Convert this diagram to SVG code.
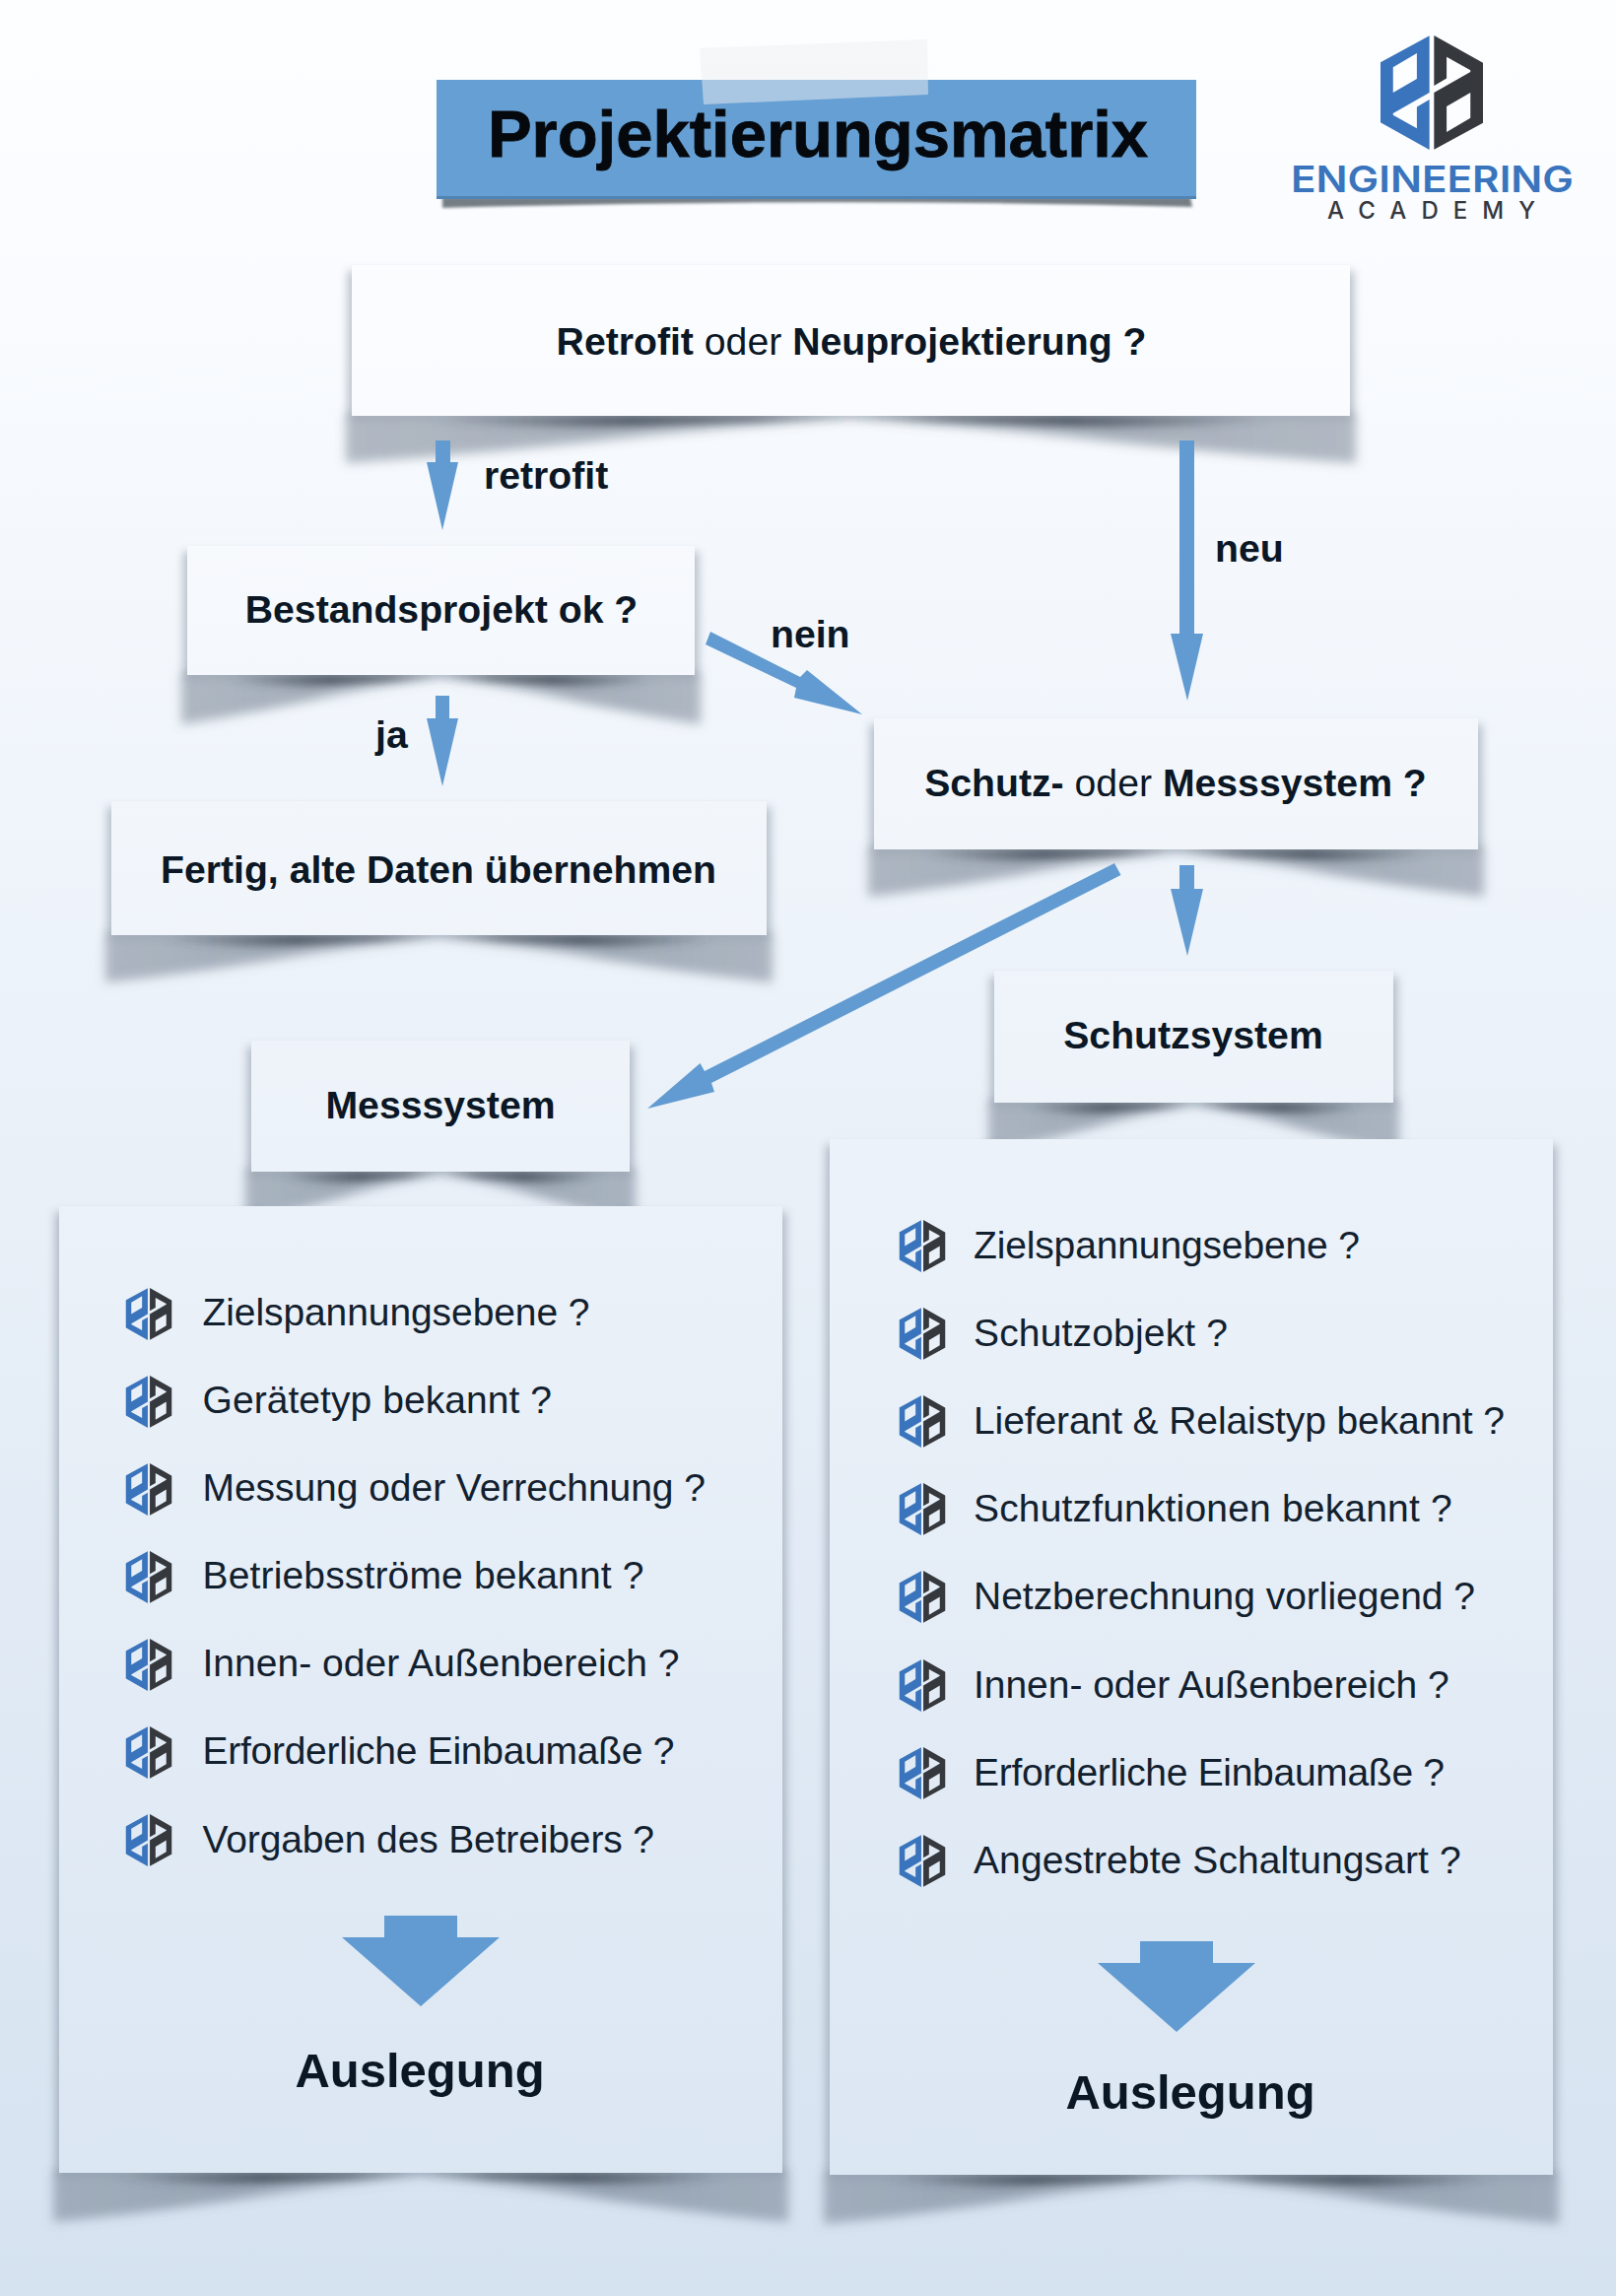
<svg xmlns="http://www.w3.org/2000/svg" width="1640" height="2330" viewBox="0 0 1640 2330">
<defs>
<style>
text{font-family:"Liberation Sans",Arial,sans-serif;fill:#0b1724}
.b{font-weight:700;font-size:39.200px}
.m{text-anchor:middle}
.n{font-weight:400}
.l{font-size:39px;font-weight:400;fill:#12202e}
.a{font-weight:700;font-size:49px}
.box{fill:url(#boxG)}
.curl{fill:url(#curlG);filter:url(#b6)}
.streak{fill:url(#streakG);filter:url(#b4)}
.side{fill:#5d6b7b;opacity:.4;filter:url(#b5)}
.arr{fill:#619bd1}
</style>
<linearGradient id="bg" gradientUnits="userSpaceOnUse" x1="0" y1="0" x2="0" y2="2330"><stop offset="0" stop-color="#fdfeff"/><stop offset=".1" stop-color="#fafcff"/><stop offset="1" stop-color="#d5e2f0"/></linearGradient>
<linearGradient id="boxG" gradientUnits="userSpaceOnUse" x1="0" y1="0" x2="0" y2="2330"><stop offset="0" stop-color="#ffffff"/><stop offset=".1" stop-color="#fcfdff"/><stop offset="1" stop-color="#d9e5f2"/></linearGradient>
<linearGradient id="curlG" x1="0" y1="0" x2="1" y2="0"><stop offset="0" stop-color="#5f6d7e" stop-opacity=".46"/><stop offset=".25" stop-color="#5f6d7e" stop-opacity=".52"/><stop offset=".42" stop-color="#5f6d7e" stop-opacity=".3"/><stop offset=".5" stop-color="#5f6d7e" stop-opacity=".04"/><stop offset=".58" stop-color="#5f6d7e" stop-opacity=".3"/><stop offset=".75" stop-color="#5f6d7e" stop-opacity=".52"/><stop offset="1" stop-color="#5f6d7e" stop-opacity=".46"/></linearGradient>
<linearGradient id="streakG" x1="0" y1="0" x2="1" y2="0"><stop offset=".08" stop-color="#3a4450" stop-opacity="0"/><stop offset=".28" stop-color="#3a4450" stop-opacity=".78"/><stop offset=".4" stop-color="#3a4450" stop-opacity=".62"/><stop offset=".5" stop-color="#3a4450" stop-opacity=".04"/><stop offset=".6" stop-color="#3a4450" stop-opacity=".62"/><stop offset=".72" stop-color="#3a4450" stop-opacity=".78"/><stop offset=".92" stop-color="#3a4450" stop-opacity="0"/></linearGradient>
<filter id="b6" x="-10%" y="-50%" width="120%" height="200%"><feGaussianBlur stdDeviation="5.500"/></filter>
<filter id="b4" x="-10%" y="-100%" width="120%" height="300%"><feGaussianBlur stdDeviation="4"/></filter>
<filter id="b5" x="-10%" y="-10%" width="120%" height="120%"><feGaussianBlur stdDeviation="5"/></filter>
<filter id="b2" x="-5%" y="-100%" width="110%" height="300%"><feGaussianBlur stdDeviation="1.500"/></filter>
<symbol id="logo" viewBox="365 49 310 346" preserveAspectRatio="none">
<path fill="#3a74bc" fill-rule="evenodd" d="M513 50L365 130V312L513 395V243L475 265V330L403 290V285L513 222ZM403 145L475 103V180L403 222Z"/>
<path fill="#35383d" fill-rule="evenodd" d="M527 394L675 314V132L527 49V201L565 179V114L637 154V159L527 222ZM637 299L565 341V264L637 222Z"/>
</symbol>
</defs>
<rect width="1640" height="2330" fill="url(#bg)"/>

<g id="title">
<path d="M449 200H1208L1210 210Q830 200 449 211Z" fill="#4a525c" opacity=".75" filter="url(#b2)"/>
<rect x="443" y="81" width="771" height="121" fill="#659fd3"/>
<rect x="443" y="199" width="771" height="3" fill="#4f84b4"/>
<polygon points="710,49 941,40 942,96 714,106" fill="#edeff1" opacity=".5"/>
<text x="830" y="159" class="m" stroke="#05090e" stroke-width=".8" style="font-weight:700;font-size:67px;fill:#05090e">Projektierungsmatrix</text>
</g>

<g id="brand">
<use href="#logo" x="1401" y="36" width="104" height="116"/>
<text x="1310" y="195" textLength="287" lengthAdjust="spacingAndGlyphs" style="font-family:Inter,'Liberation Sans',sans-serif;font-weight:600;font-size:37px;fill:#3a74bc">ENGINEERING</text>
<text x="1347" y="222" textLength="211" style="font-family:Inter,'Liberation Sans',sans-serif;font-weight:500;font-size:24px;fill:#35383d">ACADEMY</text>
</g>

<g id="n-retrofit">
<rect class="side" x="353" y="275" width="1021" height="150"/>
<path class="curl" d="M351 420H1376V470C1167 456 1015.500 432 863.500 428C711.500 432 560 456 351 470Z"/>
<path class="streak" d="M357 421H1370C1167 444 1015.500 428 863.500 426C711.500 428 560 444 357 421Z"/>
<rect class="box" x="357" y="269" width="1013" height="153"/>
<text x="864" y="360" class="b m">Retrofit <tspan class="n">oder</tspan> Neuprojektierung ?</text>
</g>

<g id="n-bestand">
<rect class="side" x="186" y="560" width="523" height="128"/>
<path class="curl" d="M184 683H711V735C602 719 524.500 695 447.500 691C370.500 695 293 719 184 735Z"/>
<path class="streak" d="M190 684H705C602 707 524.500 691 447.500 689C370.500 691 293 707 190 684Z"/>
<rect class="box" x="190" y="554" width="515" height="131"/>
<text x="448" y="632" class="b m">Bestandsprojekt ok ?</text>
</g>

<g id="n-fertig">
<rect class="side" x="109" y="819" width="673" height="133"/>
<path class="curl" d="M107 947H784V997C645 983 545.500 959 445.500 955C345.500 959 246 983 107 997Z"/>
<path class="streak" d="M113 948H778C645 971 545.500 955 445.500 953C345.500 955 246 971 113 948Z"/>
<rect class="box" x="113" y="813" width="665" height="136"/>
<text x="445" y="896" class="b m">Fertig, alte Daten übernehmen</text>
</g>

<g id="n-schutz-mess">
<rect class="side" x="883" y="735" width="621" height="130"/>
<path class="curl" d="M881 860H1506V910C1377 896 1285.500 872 1193.500 868C1101.500 872 1010 896 881 910Z"/>
<path class="streak" d="M887 861H1500C1377 884 1285.500 868 1193.500 866C1101.500 868 1010 884 887 861Z"/>
<rect class="box" x="887" y="729" width="613" height="133"/>
<text x="1193" y="808" class="b m">Schutz- <tspan class="n">oder</tspan> Messsystem ?</text>
</g>

<g id="n-schutzsystem">
<rect class="side" x="1005" y="991" width="413" height="131"/>
<path class="curl" d="M1003 1117H1420V1169C1333 1153 1272.500 1129 1211.500 1125C1150.500 1129 1090 1153 1003 1169Z"/>
<path class="streak" d="M1009 1118H1414C1333 1141 1272.500 1125 1211.500 1123C1150.500 1125 1090 1141 1009 1118Z"/>
<rect class="box" x="1009" y="985" width="405" height="134"/>
<text x="1211" y="1064" class="b m">Schutzsystem</text>
</g>

<g id="n-messsystem">
<rect class="side" x="251" y="1062" width="392" height="130"/>
<path class="curl" d="M249 1187H645V1239C562 1223 505 1199 447 1195C389 1199 332 1223 249 1239Z"/>
<path class="streak" d="M255 1188H639C562 1211 505 1195 447 1193C389 1195 332 1211 255 1188Z"/>
<rect class="box" x="255" y="1056" width="384" height="133"/>
<text x="447" y="1135" class="b m">Messsystem</text>
</g>

<g id="n-panel-mess">
<rect class="side" x="56" y="1230" width="742" height="978"/>
<path class="curl" d="M54 2203H800V2255C647 2241 537 2217 427 2211C317 2217 207 2241 54 2255Z"/>
<path class="streak" d="M60 2204H794C647 2227 537 2211 427 2209C317 2211 207 2227 60 2204Z"/>
<rect class="box" x="60" y="1224" width="734" height="981"/>
<use href="#logo" x="127.500" y="1307" width="47" height="53"/>
<use href="#logo" x="127.500" y="1396" width="47" height="53"/>
<use href="#logo" x="127.500" y="1485" width="47" height="53"/>
<use href="#logo" x="127.500" y="1574" width="47" height="53"/>
<use href="#logo" x="127.500" y="1663" width="47" height="53"/>
<use href="#logo" x="127.500" y="1752" width="47" height="53"/>
<use href="#logo" x="127.500" y="1841" width="47" height="53"/>
<text class="l" x="205.500" y="1345" textLength="393">Zielspannungsebene ?</text>
<text class="l" x="205.500" y="1434" textLength="354.500">Gerätetyp bekannt ?</text>
<text class="l" x="205.500" y="1523" textLength="510.500">Messung oder Verrechnung ?</text>
<text class="l" x="205.500" y="1612" textLength="448">Betriebsströme bekannt ?</text>
<text class="l" x="205.500" y="1701" textLength="484">Innen- oder Außenbereich ?</text>
<text class="l" x="205.500" y="1790" textLength="479">Erforderliche Einbaumaße ?</text>
<text class="l" x="205.500" y="1880" textLength="458.500">Vorgaben des Betreibers ?</text>
<polygon class="arr" points="390,1944 464,1944 464,1966 507,1966 427,2036 347,1966 390,1966"/>
<text class="a m" x="426" y="2118">Auslegung</text>
</g>

<g id="n-panel-schutz">
<rect class="side" x="838" y="1162" width="742" height="1048"/>
<path class="curl" d="M836 2205H1582V2257C1429 2243 1319 2219 1209 2213C1099 2219 989 2243 836 2257Z"/>
<path class="streak" d="M842 2206H1576C1429 2229 1319 2213 1209 2211C1099 2213 989 2229 842 2206Z"/>
<rect class="box" x="842" y="1156" width="734" height="1051"/>
<use href="#logo" x="912.500" y="1238" width="47" height="53"/>
<use href="#logo" x="912.500" y="1327" width="47" height="53"/>
<use href="#logo" x="912.500" y="1416" width="47" height="53"/>
<use href="#logo" x="912.500" y="1505" width="47" height="53"/>
<use href="#logo" x="912.500" y="1594" width="47" height="53"/>
<use href="#logo" x="912.500" y="1684" width="47" height="53"/>
<use href="#logo" x="912.500" y="1773" width="47" height="53"/>
<use href="#logo" x="912.500" y="1862" width="47" height="53"/>
<text class="l" x="988" y="1277" textLength="392">Zielspannungsebene ?</text>
<text class="l" x="988" y="1366" textLength="258">Schutzobjekt ?</text>
<text class="l" x="988" y="1455" textLength="539">Lieferant &amp; Relaistyp bekannt ?</text>
<text class="l" x="988" y="1544" textLength="485.600">Schutzfunktionen bekannt ?</text>
<text class="l" x="988" y="1633" textLength="509">Netzberechnung vorliegend ?</text>
<text class="l" x="988" y="1723" textLength="482.600">Innen- oder Außenbereich ?</text>
<text class="l" x="988" y="1812" textLength="478">Erforderliche Einbaumaße ?</text>
<text class="l" x="988" y="1901" textLength="494.600">Angestrebte Schaltungsart ?</text>
<polygon class="arr" points="1157,1970 1231,1970 1231,1992 1274,1992 1194,2062 1114,1992 1157,1992"/>
<text class="a m" x="1208" y="2140">Auslegung</text>
</g>

<g id="connectors">
<polygon class="arr" points="442,447 457,447 457,469 465,469 449,538 433,469 442,469"/>
<polygon class="arr" points="442,706 456,706 456,729 465,729 449,798 433,729 442,729"/>
<polygon class="arr" points="1197,447 1212,447 1212,643 1221,643 1205,711 1188,643 1197,643"/>
<polygon class="arr" points="721,641 812,687 819,680 875,725 806,708 808,698 716,654"/>
<polygon class="arr" points="1131,876 1137.500,888 722,1099 725,1108 657,1125 710.500,1079 715,1087"/>
<polygon class="arr" points="1197,878 1212,878 1212,902 1221,902 1205,970 1188,902 1197,902"/>
</g>
<g id="edge-labels">
<text class="b" x="491" y="496">retrofit</text>
<text class="b" x="1233" y="570">neu</text>
<text class="b" x="782" y="657">nein</text>
<text class="b" x="381" y="759">ja</text>
</g>
</svg>
